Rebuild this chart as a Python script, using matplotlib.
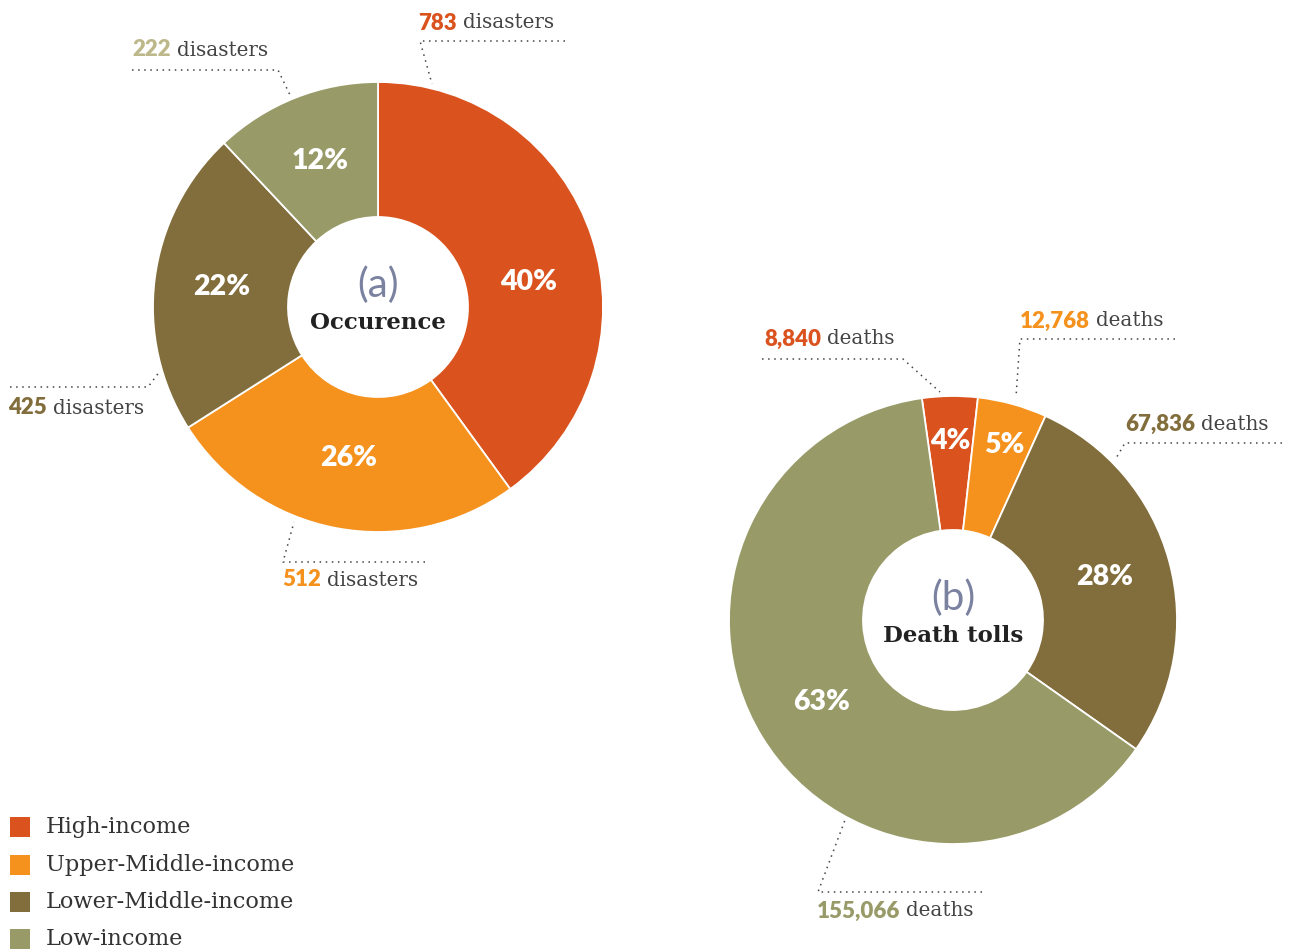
import matplotlib
matplotlib.use("Agg")
import matplotlib.pyplot as plt
import numpy as np

W, H = 1289, 950

categories = ["High-income", "Upper-Middle-income", "Lower-Middle-income", "Low-income"]
colors = ["#DA521E", "#F5921E", "#826E3C", "#989A68"]

# (a) Occurence: counts and printed shares (%)
occurence_counts = [783, 512, 425, 222]
occurence_pct = [40, 26, 22, 12]
occurence_label_colors = ["#DA521E", "#F5921E", "#826E3C", "#BDB88A"]

# (b) Death tolls: counts and printed shares (%)
death_counts = [8840, 12768, 67836, 155066]
death_pct = [4, 5, 28, 63]
death_label_colors = ["#DA521E", "#F5921E", "#826E3C", "#989A68"]

fig = plt.figure(figsize=(W / 100, H / 100), dpi=100)
ax = fig.add_axes([0, 0, 1, 1])

NUM_FONT = "Lato"
SERIF = "DejaVu Serif"


def Y(p):
    return H - p


def donut(values, center, radius, inner, startangle, pct_r, pct_dang, title_letter, title):
    cx, cy = center
    wedges, _ = ax.pie(values, colors=colors, startangle=startangle, counterclock=False,
                       center=(cx, Y(cy)), radius=radius,
                       wedgeprops=dict(width=radius - inner, edgecolor="white", linewidth=1.3))
    for w, v, rf, da in zip(wedges, values, pct_r, pct_dang):
        ang = np.deg2rad((w.theta1 + w.theta2) / 2 + da)
        r = rf * radius
        ax.text(cx + r * np.cos(ang), Y(cy) + r * np.sin(ang), f"{v}%", color="white",
                fontsize=20.5, fontweight="heavy", family=NUM_FONT, ha="center", va="center")
    ax.text(cx, Y(cy - 22), title_letter, color="#7B82A0", fontsize=29, family=NUM_FONT,
            ha="center", va="center")
    ax.text(cx, Y(cy + 16), title, color="#222222", fontsize=16.5, fontweight="bold",
            family=SERIF, ha="center", va="center")


donut(occurence_pct, (378, 307), 225, 90, 90,
      [0.68, 0.685, 0.70, 0.70], [-8.6, 0, 0, 0], "(a)", "Occurence")
donut(death_pct, (953, 620), 224, 90, 98,
      [0.80, 0.815, 0.705, 0.69], [0, -1, 0.6, 0.6], "(b)", "Death tolls")

ax.set_xlim(0, W)
ax.set_ylim(0, H)
ax.set_aspect("auto")
ax.axis("off")

fig.canvas.draw()
renderer = fig.canvas.get_renderer()


def label(x, ycen, num, word, color):
    t = ax.text(x, Y(ycen), num, color=color, fontsize=16, fontweight="heavy",
                family=NUM_FONT, ha="left", va="center")
    bb = t.get_window_extent(renderer)
    ax.text(bb.x1 + 6, Y(ycen), word, color="#444444", fontsize=14.3, family=SERIF,
            ha="left", va="center")


def leader(points):
    xs = [p[0] for p in points]
    ys = [Y(p[1]) for p in points]
    ax.plot(xs, ys, color="#444444", linestyle=(0, (1, 3)), linewidth=1.1)


fmt = lambda v: f"{v:,}"

# occurrence labels
label(418, 23, fmt(occurence_counts[0]), "disasters", occurence_label_colors[0])
leader([(565, 41), (420, 41), (432, 84)])
label(282, 580, fmt(occurence_counts[1]), "disasters", occurence_label_colors[1])
leader([(425, 562), (283, 562), (294, 522)])
label(8, 408, fmt(occurence_counts[2]), "disasters", occurence_label_colors[2])
leader([(10, 387), (148, 387), (160, 371)])
label(132, 50, fmt(occurence_counts[3]), "disasters", occurence_label_colors[3])
leader([(132, 70), (278, 70), (290, 95)])

# death labels
label(764, 339, fmt(death_counts[0]), "deaths", death_label_colors[0])
leader([(762, 359), (903, 359), (940, 392)])
label(1020, 321, fmt(death_counts[1]), "deaths", death_label_colors[1])
leader([(1175, 339), (1020, 339), (1016, 397)])
label(1125, 424, fmt(death_counts[2]), "deaths", death_label_colors[2])
leader([(1282, 443), (1125, 443), (1115, 460)])
label(817, 911, fmt(death_counts[3]), "deaths", death_label_colors[3])
leader([(982, 892), (818, 892), (845, 820)])

# legend
leg_y = [827, 865, 902, 939]
for cat, col, yy in zip(categories, colors, leg_y):
    ax.add_patch(plt.Rectangle((10, Y(yy) - 10), 20, 20, facecolor=col, edgecolor="none"))
    ax.text(46, Y(yy), cat, color="#333333", fontsize=16.2, family=SERIF,
            ha="left", va="center")

ax.set_xlim(0, W)
ax.set_ylim(0, H)
fig.savefig("out.png", dpi=100)
